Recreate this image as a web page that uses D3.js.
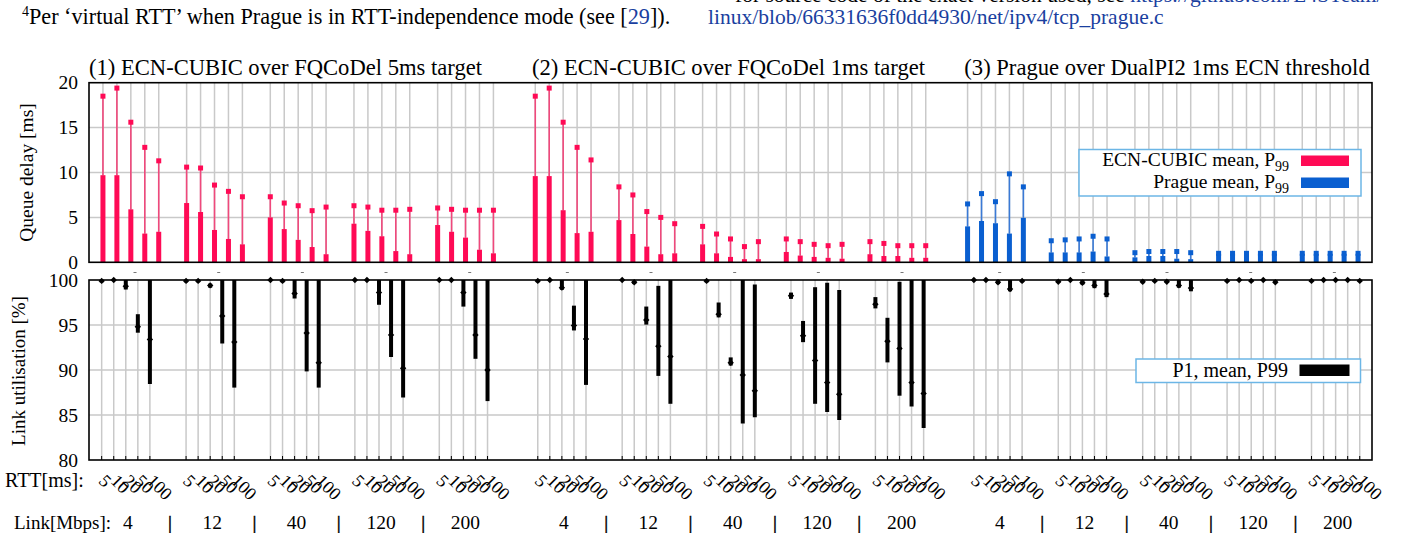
<!DOCTYPE html>
<html><head><meta charset="utf-8">
<script src="https://cdn.jsdelivr.net/npm/d3@7"></script>
<style>body{margin:0;background:#fff} text{font-family:"Liberation Serif","Times New Roman",serif;fill:#000}</style>
</head><body><svg id="c" width="1406" height="533"></svg>
<script>
// ---------- data ----------
const sections = ["(1) ECN-CUBIC over FQCoDel 5ms target", "(2) ECN-CUBIC over FQCoDel 1ms target", "(3) Prague over DualPI2 1ms ECN threshold"];
const links = ["4", "12", "40", "120", "200"];
const rtts = ["5", "10", "20", "50", "100"];
const delayTicks = [0, 5, 10, 15, 20];
const utilTicks = [80, 85, 90, 95, 100];

// queue delay [ms], rows = link, cols = rtt
const delayMean = [
  [[9.7, 9.7, 5.9, 3.2, 3.4], [6.6, 5.6, 3.6, 2.6, 2.0], [5.0, 3.7, 2.5, 1.7, 0.9], [4.3, 3.5, 2.9, 1.25, 0.9], [4.15, 3.4, 2.75, 1.4, 1.0]],
  [[9.6, 9.6, 5.8, 3.25, 3.4], [4.7, 3.15, 1.75, 0.9, 1.0], [2.0, 1.0, 0.6, 0.35, 0.35], [1.15, 0.75, 0.6, 0.5, 0.4], [0.9, 0.7, 0.7, 0.5, 0.5]],
  [[4.0, 4.6, 4.35, 3.2, 4.95], [1.1, 1.1, 1.1, 1.2, 0.65], [0.55, 0.7, 0.7, 0.4, 0.35], [0.95, 0.95, 0.95, 0.95, 0.95], [0.95, 0.95, 0.95, 0.95, 0.95]]
];
const delayP99 = [
  [[18.5, 19.4, 15.6, 12.8, 11.3], [10.6, 10.5, 8.6, 7.9, 7.3], [7.3, 6.6, 6.3, 5.75, 6.15], [6.3, 6.15, 5.8, 5.8, 5.9], [6.05, 5.9, 5.8, 5.8, 5.8]],
  [[18.5, 19.4, 15.6, 12.8, 11.4], [8.4, 7.5, 5.65, 5.0, 4.3], [4.0, 3.15, 2.6, 1.75, 2.3], [2.6, 2.3, 2.0, 1.85, 2.0], [2.3, 2.1, 1.85, 1.85, 1.85]],
  [[6.5, 7.65, 6.75, 9.85, 8.4], [2.4, 2.5, 2.6, 2.9, 2.6], [1.07, 1.2, 1.2, 1.2, 1.07], [1.0, 1.0, 1.0, 1.0, 1.0], [1.0, 1.0, 1.0, 1.0, 1.0]]
];
// link utilisation [%]
const utilP1 = [
  [[99.8, 99.95, 99.0, 94.2, 88.5], [99.8, 99.8, 99.2, 93.0, 88.1], [99.95, 99.8, 98.0, 89.9, 88.1], [99.95, 99.95, 97.3, 91.5, 87.0], [99.95, 99.95, 97.1, 91.3, 86.6]],
  [[99.8, 99.95, 98.97, 94.45, 88.4], [99.95, 99.6, 95.1, 89.4, 86.3], [99.8, 95.9, 90.55, 84.1, 84.8], [97.96, 93.15, 86.3, 85.4, 84.5], [96.9, 90.9, 87.2, 86.0, 83.6]],
  [[99.95, 99.95, 99.6, 98.8, 99.8], [99.75, 99.95, 99.55, 99.15, 98.15], [99.7, 99.85, 99.75, 99.2, 98.8], [99.85, 99.95, 99.85, 99.95, 99.7], [99.85, 99.95, 99.95, 99.95, 99.85]]
];
const utilMean = [
  [[99.9, 100, 99.3, 94.8, 93.4], [99.9, 99.9, 99.4, 96.0, 93.1], [100, 99.9, 98.5, 94.1, 90.8], [100, 100, 98.6, 93.9, 90.2], [100, 100, 98.6, 93.9, 90.0]],
  [[99.9, 100, 99.15, 94.95, 93.45], [100, 99.75, 95.55, 92.65, 91.5], [99.9, 96.2, 90.8, 89.45, 87.7], [98.25, 93.8, 91.05, 88.6, 87.3], [97.3, 93.2, 92.4, 88.6, 87.4]],
  [[100, 100, 99.75, 99.0, 99.9], [99.8, 100, 99.7, 99.4, 98.45], [99.8, 99.9, 99.8, 99.4, 99.1], [99.9, 100, 99.9, 100, 99.75], [99.9, 100, 100, 100, 99.9]]
];
const utilP99 = [
  [[100, 100, 100, 96.2, 100], [100, 100, 99.6, 100, 100], [100, 100, 100, 100, 100], [100, 100, 100, 100, 100], [100, 100, 100, 100, 100]],
  [[100, 100, 100, 97.15, 100], [100, 99.9, 97.05, 99.35, 100], [100, 97.5, 91.4, 100, 99.5], [98.6, 95.45, 99.2, 99.7, 98.9], [98.1, 95.8, 99.8, 100, 100]],
  [[100, 100, 100, 100, 100], [100, 100, 100, 100, 100], [100, 100, 100, 100, 100], [100, 100, 100, 100, 100], [100, 100, 100, 100, 100]]
];

// ---------- layout ----------
const svg = d3.select("#c");
const L = 89, R = 1372;
const topY = d3.scaleLinear().domain([0, 20]).range([262.3, 82.7]);
const botY = d3.scaleLinear().domain([80, 100]).range([460, 280]);
const topX = d3.scaleLinear().domain([-1, 91]).range([L, R]);
const botX = d3.scaleLinear().domain([-0.9, 90.3]).range([L, R]);
const grpU = (s, g) => s * 31 + g * 6;
const topU = (s, g, r) => grpU(s, g) + r;
const botU = (s, g, r) => grpU(s, g) + r * 6 / 7;
const colPink = "#ff0a55", colPinkLine = "#f0487c", colBlue = "#0a5fd0", colBlueLine = "#3a7ad6";
const grid = "#c9c9c9";

const pts = [];
sections.forEach((_, s) => links.forEach((_, g) => rtts.forEach((_, r) => pts.push({s, g, r}))));

// ---------- top panel ----------
const gTop = svg.append("g");
gTop.selectAll(".hg").data(delayTicks.slice(1, -1)).join("line")
  .attr("x1", L).attr("x2", R).attr("y1", d => topY(d)).attr("y2", d => topY(d))
  .attr("stroke", grid).attr("stroke-width", 1.5);
gTop.selectAll(".vg").data(pts).join("line")
  .attr("x1", d => topX(topU(d.s, d.g, d.r))).attr("x2", d => topX(topU(d.s, d.g, d.r)))
  .attr("y1", topY(0)).attr("y2", topY(20)).attr("stroke", grid).attr("stroke-width", 1.5);
gTop.selectAll(".wh").data(pts).join("line")
  .attr("x1", d => topX(topU(d.s, d.g, d.r))).attr("x2", d => topX(topU(d.s, d.g, d.r)))
  .attr("y1", d => topY(delayMean[d.s][d.g][d.r])).attr("y2", d => topY(delayP99[d.s][d.g][d.r]))
  .attr("stroke", d => d.s === 2 ? colBlueLine : colPinkLine).attr("stroke-width", 1.6);
gTop.selectAll(".bar").data(pts).join("rect")
  .attr("x", d => topX(topU(d.s, d.g, d.r)) - 2.5).attr("width", 5)
  .attr("y", d => topY(delayMean[d.s][d.g][d.r]))
  .attr("height", d => topY(0) - topY(delayMean[d.s][d.g][d.r]))
  .attr("fill", d => d.s === 2 ? colBlue : colPink);
gTop.selectAll(".mk").data(pts).join("rect")
  .attr("x", d => topX(topU(d.s, d.g, d.r)) - 2.5).attr("width", 5)
  .attr("y", d => topY(delayP99[d.s][d.g][d.r]) - 2.5).attr("height", 5)
  .attr("fill", d => d.s === 2 ? colBlue : colPink);
gTop.append("rect").attr("x", L).attr("y", topY(20)).attr("width", R - L).attr("height", topY(0) - topY(20))
  .attr("fill", "none").attr("stroke", "#000").attr("stroke-width", 1.6);
gTop.selectAll(".yt").data(delayTicks).join("text")
  .attr("x", 78).attr("y", d => topY(d) + 6.5).attr("text-anchor", "end").attr("font-size", 19.5).text(d => d);
gTop.append("text").attr("transform", `translate(33,${(topY(0) + topY(20)) / 2}) rotate(-90)`)
  .attr("text-anchor", "middle").attr("font-size", 19.5).text("Queue delay [ms]");
const titleX = [285.5, 728.5, 1167];
gTop.selectAll(".ti").data(sections).join("text")
  .attr("x", (d, i) => titleX[i]).attr("y", 74.5).attr("text-anchor", "middle").attr("font-size", 22.6).text(d => d);
const lg = gTop.append("g");
lg.append("rect").attr("x", 1079).attr("y", 149.5).attr("width", 282).attr("height", 46.5)
  .attr("fill", "#fff").attr("stroke", "#6cb6e6").attr("stroke-width", 1.5);
const legItems = [{n: "ECN-CUBIC mean, P", c: colPink, y: 166}, {n: "Prague mean, P", c: colBlue, y: 188}];
legItems.forEach(it => {
  const t = lg.append("text").attr("x", 1289).attr("y", it.y).attr("text-anchor", "end").attr("font-size", 19.5);
  t.append("tspan").text(it.n);
  t.append("tspan").attr("font-size", 14).attr("dy", 5).text("99");
  lg.append("rect").attr("x", 1301).attr("y", it.y - 10.5).attr("width", 48).attr("height", 10.5).attr("fill", it.c);
});
svg.selectAll(".dash").data(d3.range(15)).join("line")
  .attr("x1", d => topX(grpU(Math.floor(d / 5), d % 5) + 2.3) - 1.5)
  .attr("x2", d => topX(grpU(Math.floor(d / 5), d % 5) + 2.3) + 1.5)
  .attr("y1", 272.5).attr("y2", 272.5).attr("stroke", "#777").attr("stroke-width", 1);

// ---------- bottom panel ----------
const gBot = svg.append("g");
gBot.selectAll(".hg").data(utilTicks.slice(1, -1)).join("line")
  .attr("x1", L).attr("x2", R).attr("y1", d => botY(d)).attr("y2", d => botY(d))
  .attr("stroke", grid).attr("stroke-width", 1.5);
gBot.selectAll(".vg").data(pts).join("line")
  .attr("x1", d => botX(botU(d.s, d.g, d.r))).attr("x2", d => botX(botU(d.s, d.g, d.r)))
  .attr("y1", botY(80)).attr("y2", botY(100)).attr("stroke", grid).attr("stroke-width", 1.5);
gBot.selectAll(".tk").data(pts).join("line")
  .attr("x1", d => botX(botU(d.s, d.g, d.r))).attr("x2", d => botX(botU(d.s, d.g, d.r)))
  .attr("y1", botY(80)).attr("y2", botY(80) - 4).attr("stroke", "#000").attr("stroke-width", 1);
gBot.selectAll(".rng").data(pts).join("line")
  .attr("x1", d => botX(botU(d.s, d.g, d.r))).attr("x2", d => botX(botU(d.s, d.g, d.r)))
  .attr("y1", d => botY(utilP1[d.s][d.g][d.r]) + 0.5).attr("y2", d => botY(utilP99[d.s][d.g][d.r]))
  .attr("stroke", "#000").attr("stroke-width", 4);
gBot.selectAll(".mn").data(pts).join("path")
  .attr("transform", d => `translate(${botX(botU(d.s, d.g, d.r))},${botY(utilMean[d.s][d.g][d.r])})`)
  .attr("d", "M0,-3.2L3.2,0L0,3.2L-3.2,0Z").attr("fill", "#000");
gBot.append("rect").attr("x", L).attr("y", botY(100)).attr("width", R - L).attr("height", botY(80) - botY(100))
  .attr("fill", "none").attr("stroke", "#000").attr("stroke-width", 1.6);
gBot.selectAll(".yt").data(utilTicks).join("text")
  .attr("x", 78).attr("y", d => botY(d) + 6.5).attr("text-anchor", "end").attr("font-size", 19.5).text(d => d);
gBot.append("text").attr("transform", `translate(25,${(botY(80) + botY(100)) / 2 + 1}) rotate(-90)`)
  .attr("text-anchor", "middle").attr("font-size", 19).text("Link utilisation [%]");
gBot.append("rect").attr("x", 1136).attr("y", 359).attr("width", 224.5).attr("height", 23.5)
  .attr("fill", "#fff").attr("stroke", "#6cb6e6").attr("stroke-width", 1.5);
gBot.append("text").attr("x", 1288).attr("y", 377).attr("text-anchor", "end").attr("font-size", 20).text("P1, mean, P99");
gBot.append("rect").attr("x", 1299.5).attr("y", 364.5).attr("width", 50).attr("height", 11.5).attr("fill", "#000");

svg.selectAll(".xl").data(pts).join("text")
  .attr("transform", d => `translate(${botX(botU(d.s, d.g, d.r)) - 4},${482}) rotate(45)`)
  .attr("font-size", 18).text(d => rtts[d.r]);
svg.append("text").attr("x", 5).attr("y", 487).attr("font-size", 20).text("RTT[ms]:");
svg.append("text").attr("x", 14).attr("y", 529).attr("font-size", 19).text("Link[Mbps]:");
const grps = [];
sections.forEach((_, s) => links.forEach((l, g) => grps.push({s, g, l})));
svg.selectAll(".lk").data(grps).join("text")
  .attr("x", d => botX(grpU(d.s, d.g) + 12 / 7) + 2).attr("y", 529).attr("text-anchor", "middle")
  .attr("font-size", 19.5).text(d => d.l);
svg.selectAll(".sep").data(grps.filter(d => d.g < 4)).join("text")
  .attr("x", d => botX(grpU(d.s, d.g) + 12 / 7 + 3) + 2).attr("y", 529)
  .attr("text-anchor", "middle").attr("font-size", 19.5)
  .attr("stroke", "#000").attr("stroke-width", 0.5).text("|");

// ---------- surrounding page text ----------
const t1 = svg.append("text").attr("x", 22).attr("y", 23.5).attr("font-size", 22.2);
t1.append("tspan").attr("font-size", 14).attr("dy", -8).text("4");
t1.append("tspan").attr("dy", 8).text("Per \u2018virtual RTT\u2019 when Prague is in RTT-independence mode (see [");
t1.append("tspan").style("fill", "#1a3fa0").text("29");
t1.append("tspan").text("]).");
svg.append("text").attr("x", 708).attr("y", 23.5).attr("font-size", 21.5).style("fill", "#1a3fa0")
  .text("linux/blob/66331636f0dd4930/net/ipv4/tcp_prague.c");
const t3 = svg.append("text").attr("x", 735).attr("y", 2).attr("font-size", 21.5);
t3.append("tspan").text("for source code of the exact version used, see ");
t3.append("tspan").style("fill", "#1a3fa0").text("https://github.com/L4STeam/");
</script></body></html>
